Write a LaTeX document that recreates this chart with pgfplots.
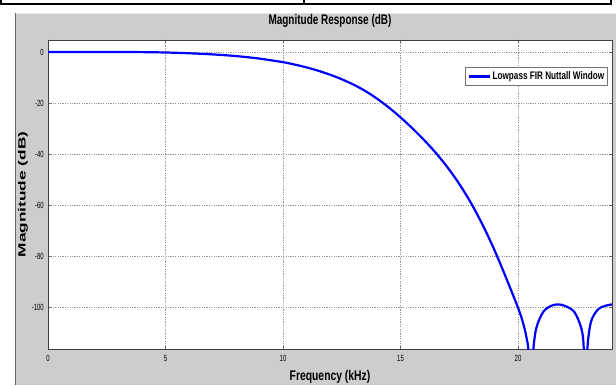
\documentclass[border=0pt]{standalone}
\usepackage{graphicx}
\usepackage{fontspec}
\setmainfont{Liberation Sans}
\usepackage{pgfplots}
\pgfplotsset{compat=1.18}
\definecolor{panel}{RGB}{205,205,205}
\definecolor{gridc}{RGB}{150,150,150}
\newcommand{\tl}[1]{\scalebox{1}[1.5]{#1}}
\begin{document}
\begin{tikzpicture}[x=1bp,y=1bp]
\path[use as bounding box] (0,0) rectangle (616,385);
\fill[white] (0,0) rectangle (616,385);
\fill[panel] (15,0) rectangle (616,372);
\draw[black!60, line width=1.2bp] (15.5,0) -- (15.5,372);
\draw[white!90!black, line width=1bp] (16,371) -- (616,371);
\draw[black, line width=2bp] (0,381) -- (612,381);
\draw[black, line width=1.5bp] (1,381) -- (1,385);
\draw[black, line width=1.2bp] (304,381) -- (304,385);
\draw[black, line width=1.5bp] (611,381) -- (611,385);
\begin{axis}[
  at={(48bp,36bp)}, anchor=south west,
  scale only axis, width=564bp, height=309bp,
  xmin=0, xmax=24, ymin=-116.5, ymax=4.7,
  xtick={0,5,10,15,20}, ytick={0,-20,-40,-60,-80,-100},
  axis background/.style={fill=white},
  axis line style={black!75, line width=0.8bp},
  tick align=inside, major tick length=3bp,
  tick style={black!60, line width=0.5bp},
  grid=major,
  major grid style={gridc, line width=0.6bp, dash pattern=on 1.2bp off 1.2bp},
  tick label style={font=\fontsize{6}{7}\selectfont, inner sep=0pt},
  xticklabel={\tl{\pgfmathprintnumber[assume math mode=true]{\tick}}},
  yticklabel={\tl{\pgfmathprintnumber[assume math mode=true]{\tick}}},
  x tick label style={anchor=north, yshift=-6bp},
  y tick label style={anchor=east, xshift=-4bp},
  title={\scalebox{1}[1.4]{Magnitude Response (dB)}},
  title style={font=\fontsize{10}{12}\selectfont\bfseries, at={(0.5,1)}, anchor=base, yshift=10bp, inner sep=0pt},
  xlabel={\scalebox{1}[1.35]{Frequency (kHz)}},
  xlabel style={font=\fontsize{10.4}{12}\selectfont\bfseries, at={(0.5,0)}, anchor=base, yshift=-31bp, inner sep=0pt},
  ylabel={\scalebox{1.65}[1]{Magnitude (dB)}},
  ylabel style={font=\fontsize{10.5}{12}\selectfont\bfseries, at={(0,0.5)}, anchor=center, yshift=25bp, inner sep=0pt},
  legend style={at={(1,1)}, anchor=north east, xshift=-4bp, yshift=-27bp,
    draw=black!55, fill=white, line width=0.6bp, inner xsep=2bp, inner ysep=3bp,
    font=\fontsize{8.2}{10}\selectfont\bfseries,
    nodes={inner sep=1.5bp}},
  legend image code/.code={\draw[#1, line width=2.5bp] (0bp,0bp) -- (21bp,0bp);},
  legend cell align=left,
]
\addplot[blue, line width=2.2bp, smooth, tension=0.5] coordinates {
(0,0) (1,0) (2,0) (3,-0.02) (4,-0.06) (5,-0.2) (6,-0.5) (7,-0.95) (8,-1.6) (9,-2.6) (10,-4.0)
(10.5,-4.94) (11,-6.05) (11.5,-7.36) (12,-8.9) (12.5,-10.7) (13,-12.8) (13.5,-15.3) (14,-18.3)
(14.5,-21.76) (15,-25.65) (15.5,-29.9) (16,-34.5) (16.5,-39.56) (17,-45.25) (17.5,-51.75)
(18,-59.25) (18.5,-67.9) (19,-77.75) (19.5,-88.75) (20,-100.3) (20.2,-105.8) (20.35,-111.5)
(20.46,-119) (20.55,-145)
};
\addlegendentry{\scalebox{1}[1.35]{Lowpass FIR Nuttall Window}}
\addplot[blue, line width=2.2bp, smooth, tension=0.5, forget plot] coordinates {
(20.55,-145) (20.63,-120) (20.77,-108.6) (21.07,-102) (21.4,-99.6) (21.7,-99) (22.0,-99.6)
(22.4,-102) (22.7,-108.6) (22.8,-117) (22.86,-145)
};
\addplot[blue, line width=2.2bp, smooth, tension=0.5, forget plot] coordinates {
(22.86,-145) (22.94,-118) (23.1,-106) (23.4,-101) (23.7,-99.6) (24.0,-99)
};
\end{axis}
\end{tikzpicture}
\end{document}
